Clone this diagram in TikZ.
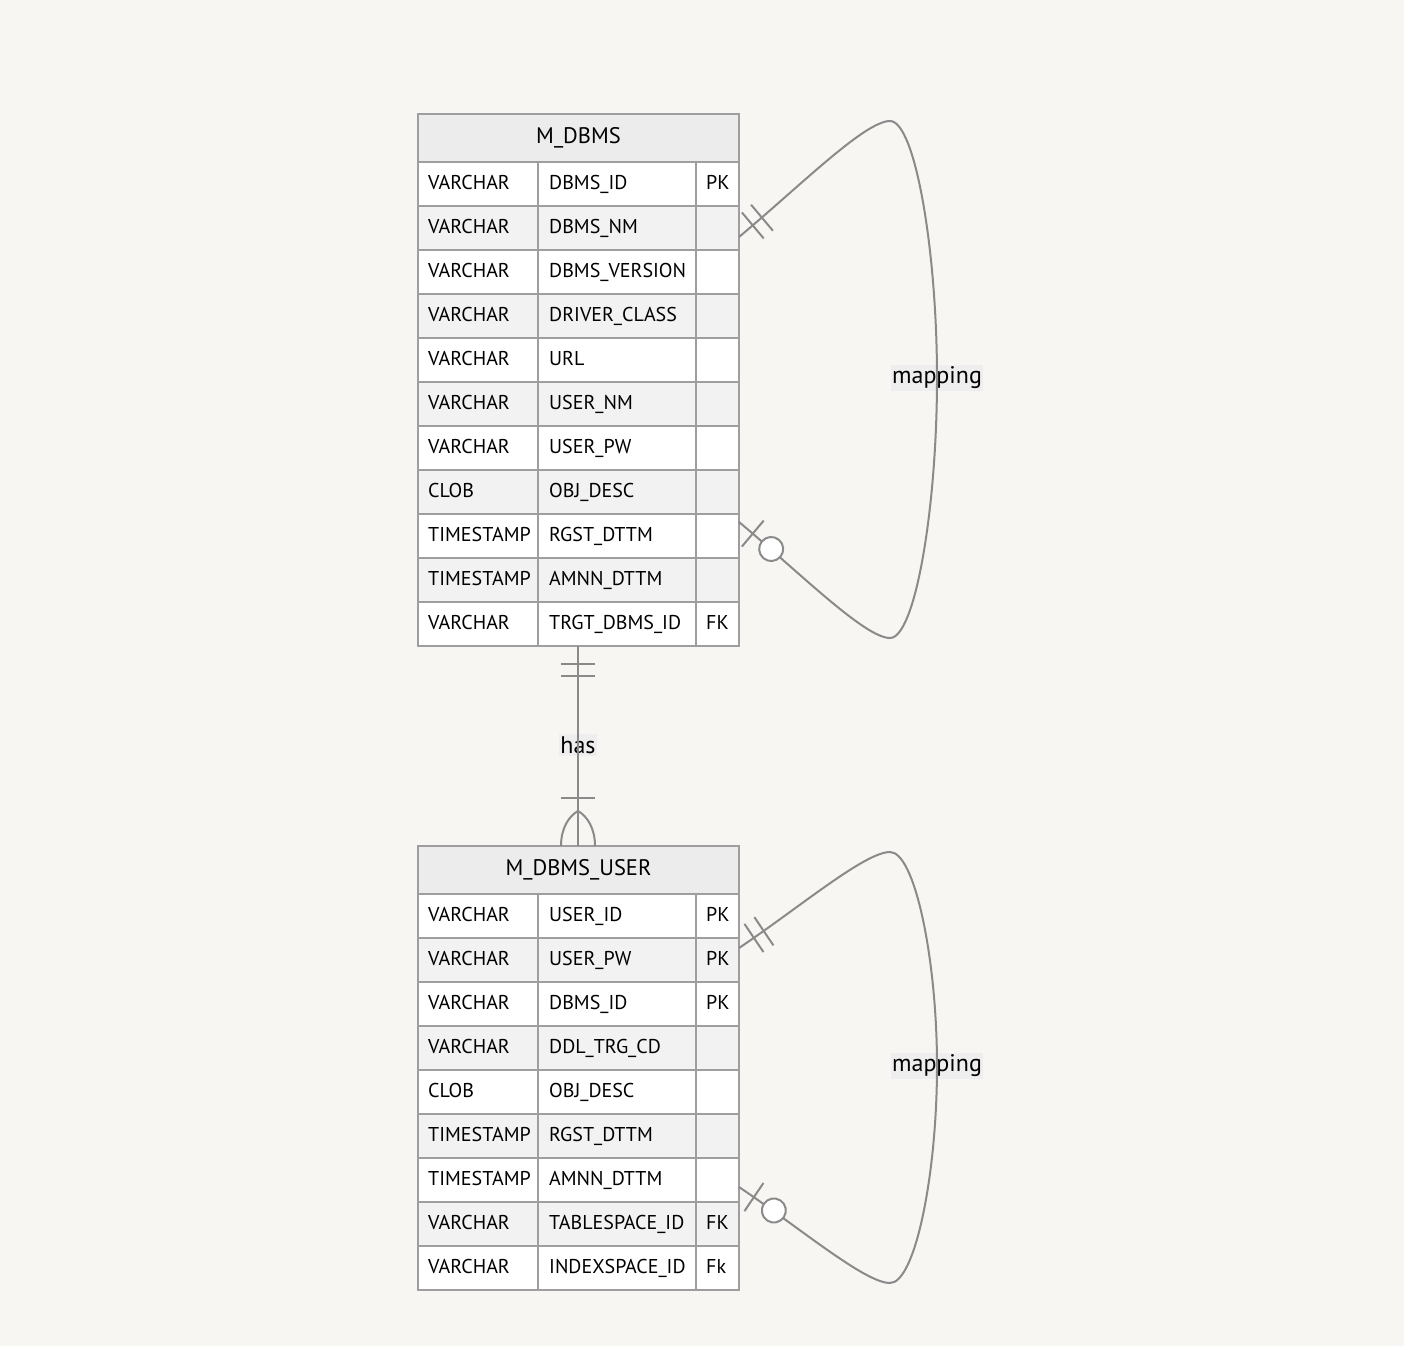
\documentclass[tikz,border=0pt]{standalone}
\usepackage{fontspec}
\setmainfont{PT Sans}
\definecolor{bgcol}{HTML}{F7F6F3}
\definecolor{tblline}{HTML}{9E9E9E}
\definecolor{headfill}{HTML}{ECECEC}
\definecolor{rowgray}{HTML}{F2F2F2}
\definecolor{relline}{HTML}{8A8A8A}
\definecolor{labfill}{HTML}{EEEEEE}
\newcommand\cellfont{\fontsize{20}{24}\selectfont}
\newcommand\headfont{\fontsize{22.5}{26}\selectfont}
\newcommand\labfont{\fontsize{24}{28}\selectfont}
\tikzset{
  tbl/.style={draw=tblline, line width=2pt},
  celltxt/.style={anchor=base west, inner sep=0pt, font=\cellfont},
  headtxt/.style={anchor=base, inner sep=0pt, font=\headfont},
  rel/.style={draw=relline, line width=2pt},
  rellabel/.style={fill=labfill, inner xsep=1pt, inner ysep=2pt, font=\labfont},
  onlyone/.pic={\draw[rel] (18,-17) -- (18,17) (30,-17) -- (30,17);},
  zeroone/.pic={\draw[rel] (18,-17) -- (18,17); \draw[rel, fill=white] (42,0) circle (12);},
  manyone/.pic={\draw[rel] (48,-17) -- (48,17);
    \draw[rel] (0,17) .. controls (18,17) and (30,9) .. (35,0) .. controls (30,-9) and (18,-17) .. (0,-17);},
}
\begin{document}
\begin{tikzpicture}[x=1pt, y=-1pt]
\fill[bgcol] (0,0) rectangle (1404,1346);
\useasboundingbox (0,0) rectangle (1404,1346);

% M_DBMS
\draw[tbl, fill=headfill] (418,114) rectangle (739,162);
\node[headtxt] (dbms) at (578.5,143) {M\_DBMS};
\foreach \ty/\nm/\ky [count=\i] in {VARCHAR/DBMS\_ID/PK, VARCHAR/DBMS\_NM/{}, VARCHAR/DBMS\_VERSION/{},
    VARCHAR/DRIVER\_CLASS/{}, VARCHAR/URL/{}, VARCHAR/USER\_NM/{}, VARCHAR/USER\_PW/{},
    CLOB/OBJ\_DESC/{}, TIMESTAMP/RGST\_DTTM/{}, TIMESTAMP/AMNN\_DTTM/{}, VARCHAR/TRGT\_DBMS\_ID/FK}{
  \pgfmathsetmacro\ry{118+44*\i}
  \ifodd\i \def\rowfill{white}\else \def\rowfill{rowgray}\fi
  \draw[tbl, fill=\rowfill] (418,\ry) rectangle (538,\ry+44);
  \draw[tbl, fill=\rowfill] (538,\ry) rectangle (696,\ry+44);
  \draw[tbl, fill=\rowfill] (696,\ry) rectangle (739,\ry+44);
  \node[celltxt] (dbms-type-\i) at (428,\ry+27) {\ty};
  \node[celltxt] (dbms-name-\i) at (549,\ry+27) {\nm};
  \node[celltxt] (dbms-key-\i) at (706,\ry+27) {\ky};
}

% M_DBMS_USER
\draw[tbl, fill=headfill] (418,846) rectangle (739,894);
\node[headtxt] (user) at (578.5,875) {M\_DBMS\_USER};
\foreach \ty/\nm/\ky [count=\i] in {VARCHAR/USER\_ID/PK, VARCHAR/USER\_PW/PK, VARCHAR/DBMS\_ID/PK,
    VARCHAR/DDL\_TRG\_CD/{}, CLOB/OBJ\_DESC/{}, TIMESTAMP/RGST\_DTTM/{}, TIMESTAMP/AMNN\_DTTM/{},
    VARCHAR/TABLESPACE\_ID/FK, VARCHAR/INDEXSPACE\_ID/Fk}{
  \pgfmathsetmacro\ry{850+44*\i}
  \ifodd\i \def\rowfill{white}\else \def\rowfill{rowgray}\fi
  \draw[tbl, fill=\rowfill] (418,\ry) rectangle (538,\ry+44);
  \draw[tbl, fill=\rowfill] (538,\ry) rectangle (696,\ry+44);
  \draw[tbl, fill=\rowfill] (696,\ry) rectangle (739,\ry+44);
  \node[celltxt] (user-type-\i) at (428,\ry+27) {\ty};
  \node[celltxt] (user-name-\i) at (549,\ry+27) {\nm};
  \node[celltxt] (user-key-\i) at (706,\ry+27) {\ky};
}

% end points on the tables
\coordinate (dbms-map-out) at (739,237);
\coordinate (dbms-map-in) at (739,522);
\coordinate (dbms-has) at (578,646);
\coordinate (user-has) at (578,846);
\coordinate (user-map-out) at (739,948);
\coordinate (user-map-in) at (739,1187);

% labels
\node[rellabel] (map1) at (937,378) {mapping};
\node[rellabel] (map2) at (937,1066) {mapping};
\node[rellabel] (has) at (578,745) {has};

% relations
\draw[rel] (dbms-map-out) .. controls (800,186) and (865,121) .. (890,121)
  .. controls (915,121) and (937,250) .. (map1.center)
  .. controls (937,509) and (915,638) .. (890,638)
  .. controls (865,638) and (800,573) .. (dbms-map-in);
\draw[rel] (user-map-out) .. controls (800,907) and (865,852) .. (890,852)
  .. controls (915,852) and (937,960) .. (map2.center)
  .. controls (937,1175) and (915,1283) .. (890,1283)
  .. controls (865,1283) and (800,1228) .. (user-map-in);
\draw[rel] (dbms-has) -- (has.center) -- (user-has);

\pic[rotate=40] at (dbms-map-out) {onlyone};
\pic[rotate=-40] at (dbms-map-in) {zeroone};
\pic[rotate=34] at (user-map-out) {onlyone};
\pic[rotate=-34] at (user-map-in) {zeroone};
\pic[rotate=-90] at (dbms-has) {onlyone};
\pic[rotate=90] at (user-has) {manyone};

\end{tikzpicture}
\end{document}
